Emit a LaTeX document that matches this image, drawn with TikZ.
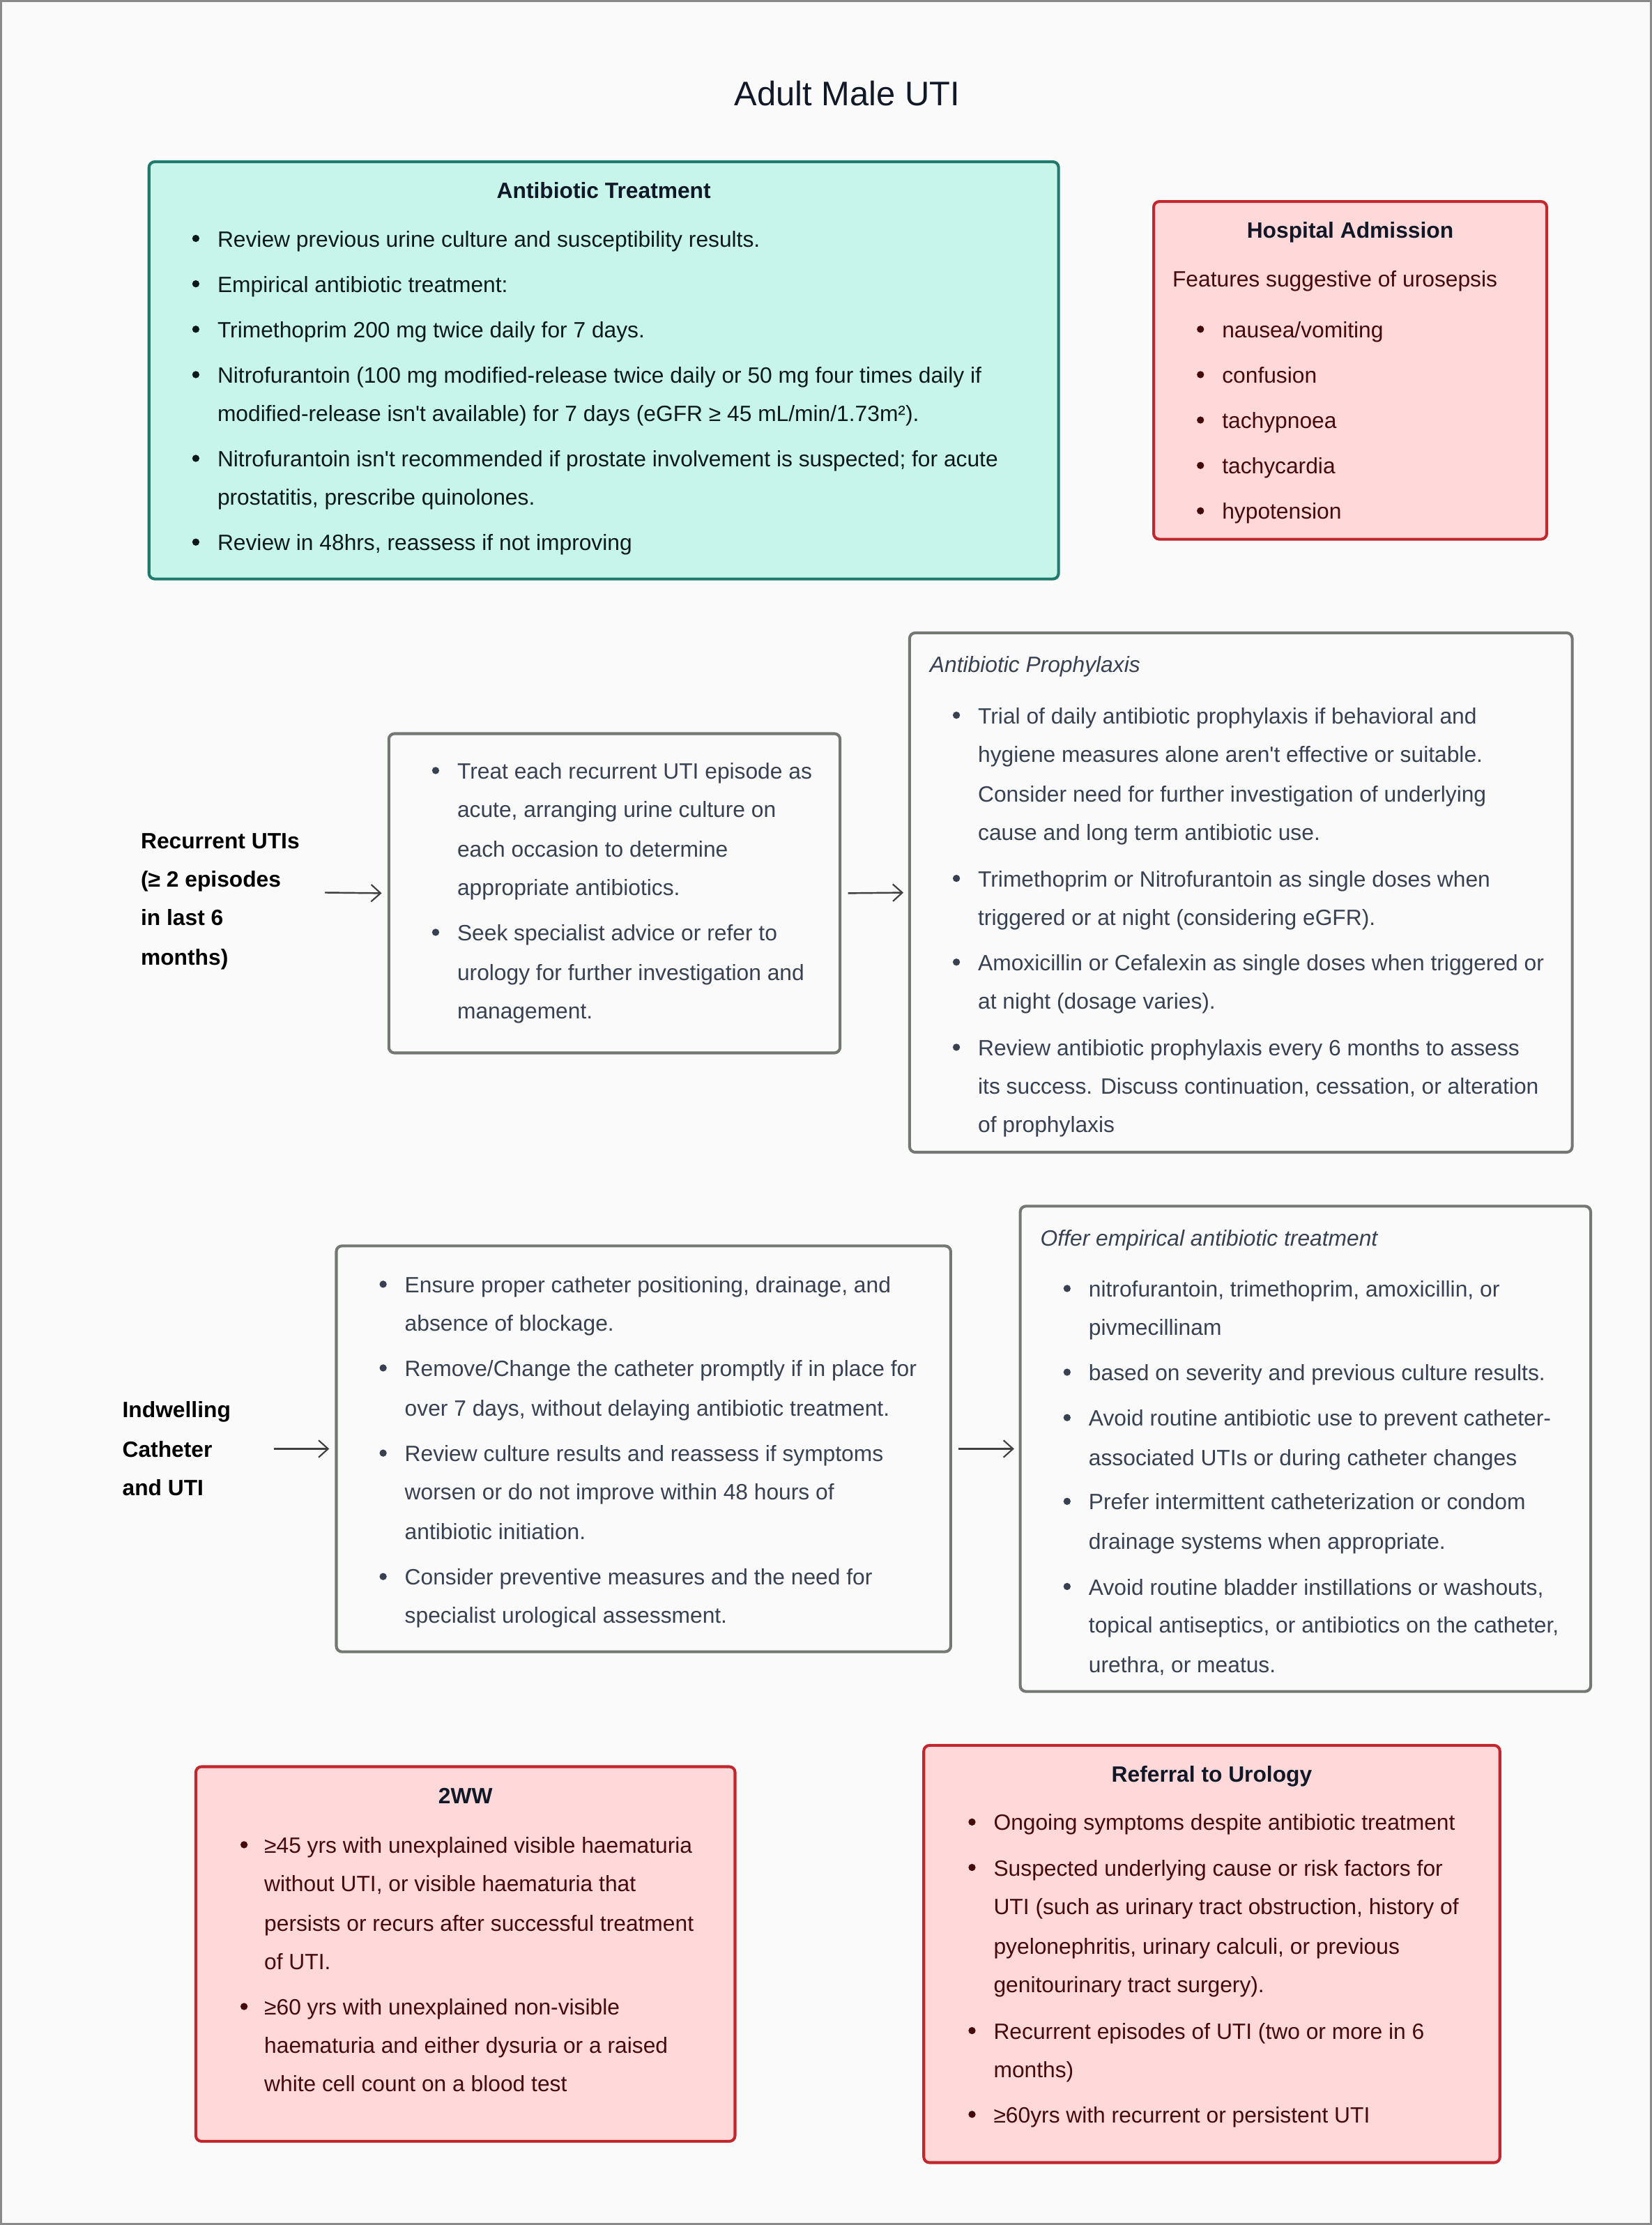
\documentclass[tikz,border=0pt]{standalone}
\usepackage{fontspec}
\setmainfont{Liberation Sans}
\usetikzlibrary{arrows.meta,fit}
\definecolor{bg}{HTML}{FAFAFA}
\definecolor{framec}{HTML}{8A8A8A}
\definecolor{mintfill}{HTML}{C8F5EA}
\definecolor{mintline}{HTML}{1E7A6A}
\definecolor{redfill}{HTML}{FFD9D9}
\definecolor{redline}{HTML}{C1272D}
\definecolor{grayline}{HTML}{737873}
\definecolor{titlec}{HTML}{111827}
\definecolor{graytext}{HTML}{374151}
\definecolor{redtext}{HTML}{450A0A}
\definecolor{minttext}{HTML}{0B1A17}
\newcommand{\sq}{\textquotesingle}
\begin{document}
\begin{tikzpicture}[x=0.75pt,y=-0.75pt,
  boxbase/.style={inner sep=0pt, rounded corners=3pt, line width=1.5pt},
  mintbox/.style={boxbase, draw=mintline, fill=mintfill},
  redbox/.style={boxbase, draw=redline, fill=redfill},
  graybox/.style={boxbase, draw=grayline, fill=bg},
  txt/.style={anchor=mid west, inner sep=0pt, yshift=-1.8pt, font=\fontsize{11.7}{14}\selectfont},
  hd/.style={anchor=mid, inner sep=0pt, yshift=-1.8pt, font=\fontsize{11.7}{14}\selectfont\bfseries, text=titlec},
  ithd/.style={txt, font=\fontsize{11.7}{14}\selectfont\itshape, text=graytext},
  lab/.style={txt, font=\fontsize{11.7}{14}\selectfont\bfseries, text=black},
  gt/.style={txt, text=graytext},
  rt/.style={txt, text=redtext},
  mt/.style={txt, text=minttext},
  bul/.style={circle, inner sep=0pt, minimum size=3.8pt},
  gb/.style={bul, fill=graytext},
  rb/.style={bul, fill=redtext},
  mb/.style={bul, fill=minttext},
  arr/.style={line width=0.9pt, draw=black!75, -{Straight Barb[length=5pt,width=9pt,line width=0.8pt]}}
]
\useasboundingbox (0,0) rectangle (1164,1568);
\fill[bg] (0,0) rectangle (1164,1568);
\draw[framec, line width=1pt] (0.7,0.7) rectangle (1163.3,1567.3);

% Title
\node[anchor=mid, inner sep=0pt, yshift=-3.5pt, font=\fontsize{18}{22}\selectfont, text=titlec] (title) at (597,66) {Adult Male UTI};

% ---------------- Antibiotic Treatment
\node[mintbox, fit={(105,114) (746,408)}] (abx) {};
\node[hd] (abxh) at (425.5,134) {Antibiotic Treatment};
\node[mb] (abxb1) at (138,168) {};
\node[mt] (abx1) at (153,168) {Review previous urine culture and susceptibility results.};
\node[mb] (abxb2) at (138,200) {};
\node[mt] (abx2) at (153,200) {Empirical antibiotic treatment:};
\node[mb] (abxb3) at (138,232) {};
\node[mt] (abx3) at (153,232) {Trimethoprim 200 mg twice daily for 7 days.};
\node[mb] (abxb4) at (138,264) {};
\node[mt] (abx4) at (153,264) {Nitrofurantoin (100 mg modified-release twice daily or 50 mg four times daily if};
\node[mt] (abx4b) at (153,291) {modified-release isn\sq t available) for 7 days (eGFR ≥ 45 mL/min/1.73m²).};
\node[mb] (abxb5) at (138,323) {};
\node[mt] (abx5) at (153,323) {Nitrofurantoin isn\sq t recommended if prostate involvement is suspected; for acute};
\node[mt] (abx5b) at (153,350) {prostatitis, prescribe quinolones.};
\node[mb] (abxb6) at (138,382) {};
\node[mt] (abx6) at (153,382) {Review in 48hrs, reassess if not improving};

% ---------------- Hospital Admission
\node[redbox, fit={(813,142) (1090,380)}] (hosp) {};
\node[hd] (hosph) at (951.5,162) {Hospital Admission};
\node[rt] (hosps) at (826,196) {Features suggestive of urosepsis};
\node[rb] (hospb1) at (846,232) {};
\node[rt] (hosp1) at (861,232) {nausea/vomiting};
\node[rb] (hospb2) at (846,264) {};
\node[rt] (hosp2) at (861,264) {confusion};
\node[rb] (hospb3) at (846,296) {};
\node[rt] (hosp3) at (861,296) {tachypnoea};
\node[rb] (hospb4) at (846,328) {};
\node[rt] (hosp4) at (861,328) {tachycardia};
\node[rb] (hospb5) at (846,360) {};
\node[rt] (hosp5) at (861,360) {hypotension};

% ---------------- Recurrent UTIs
\node[lab] (rec1) at (99,592) {Recurrent UTIs};
\node[lab] (rec2) at (99,619) {(≥ 2 episodes};
\node[lab] (rec3) at (99,646) {in last 6};
\node[lab] (rec4) at (99,674) {months)};
\coordinate (recout) at (229,629);

\node[graybox, fit={(274,517) (592,742)}] (rtr) {};
\node[gb] (rtrb1) at (307,543) {};
\node[gt] (rtr1) at (322,543) {Treat each recurrent UTI episode as};
\node[gt] (rtr1b) at (322,570) {acute, arranging urine culture on};
\node[gt] (rtr1c) at (322,598) {each occasion to determine};
\node[gt] (rtr1d) at (322,625) {appropriate antibiotics.};
\node[gb] (rtrb2) at (307,657) {};
\node[gt] (rtr2) at (322,657) {Seek specialist advice or refer to};
\node[gt] (rtr2b) at (322,685) {urology for further investigation and};
\node[gt] (rtr2c) at (322,712) {management.};

\node[graybox, fit={(641,446) (1108,812)}] (pro) {};
\node[ithd] (proh) at (655,468) {Antibiotic Prophylaxis};
\node[gb] (prob1) at (674,504) {};
\node[gt] (pro1) at (689,504) {Trial of daily antibiotic prophylaxis if behavioral and};
\node[gt] (pro1b) at (689,531) {hygiene measures alone aren\sq t effective or suitable.};
\node[gt] (pro1c) at (689,559) {Consider need for further investigation of underlying};
\node[gt] (pro1d) at (689,586) {cause and long term antibiotic use.};
\node[gb] (prob2) at (674,619) {};
\node[gt] (pro2) at (689,619) {Trimethoprim or Nitrofurantoin as single doses when};
\node[gt] (pro2b) at (689,646) {triggered or at night (considering eGFR).};
\node[gb] (prob3) at (674,678) {};
\node[gt] (pro3) at (689,678) {Amoxicillin or Cefalexin as single doses when triggered or};
\node[gt] (pro3b) at (689,705) {at night (dosage varies).};
\node[gb] (prob4) at (674,738) {};
\node[gt] (pro4) at (689,738) {Review antibiotic prophylaxis every 6 months to assess};
\node[gt] (pro4b) at (689,765) {its success. Discuss continuation, cessation, or alteration};
\node[gt] (pro4c) at (689,792) {of prophylaxis};

\draw[arr, shorten >=3pt] (recout) -- (rtr.west);
\draw[arr, shorten <=3.5pt, shorten >=2.5pt] (rtr.east) -- (pro.west);

% ---------------- Indwelling Catheter
\node[lab] (ind1) at (86,993) {Indwelling};
\node[lab] (ind2) at (86,1021) {Catheter};
\node[lab] (ind3) at (86,1048) {and UTI};
\coordinate (indout) at (193,1021);

\node[graybox, fit={(237,878) (670,1164)}] (cat) {};
\node[gb] (catb1) at (270,905) {};
\node[gt] (cat1) at (285,905) {Ensure proper catheter positioning, drainage, and};
\node[gt] (cat1b) at (285,932) {absence of blockage.};
\node[gb] (catb2) at (270,964) {};
\node[gt] (cat2) at (285,964) {Remove/Change the catheter promptly if in place for};
\node[gt] (cat2b) at (285,992) {over 7 days, without delaying antibiotic treatment.};
\node[gb] (catb3) at (270,1024) {};
\node[gt] (cat3) at (285,1024) {Review culture results and reassess if symptoms};
\node[gt] (cat3b) at (285,1051) {worsen or do not improve within 48 hours of};
\node[gt] (cat3c) at (285,1079) {antibiotic initiation.};
\node[gb] (catb4) at (270,1111) {};
\node[gt] (cat4) at (285,1111) {Consider preventive measures and the need for};
\node[gt] (cat4b) at (285,1138) {specialist urological assessment.};

\node[graybox, fit={(719,850) (1121,1192)}] (emp) {};
\node[ithd] (emph) at (733,872) {Offer empirical antibiotic treatment};
\node[gb] (empb1) at (752,908) {};
\node[gt] (emp1) at (767,908) {nitrofurantoin, trimethoprim, amoxicillin, or};
\node[gt] (emp1b) at (767,935) {pivmecillinam};
\node[gb] (empb2) at (752,967) {};
\node[gt] (emp2) at (767,967) {based on severity and previous culture results.};
\node[gb] (empb3) at (752,999) {};
\node[gt] (emp3) at (767,999) {Avoid routine antibiotic use to prevent catheter-};
\node[gt] (emp3b) at (767,1027) {associated UTIs or during catheter changes};
\node[gb] (empb4) at (752,1058) {};
\node[gt] (emp4) at (767,1058) {Prefer intermittent catheterization or condom};
\node[gt] (emp4b) at (767,1086) {drainage systems when appropriate.};
\node[gb] (empb5) at (752,1118) {};
\node[gt] (emp5) at (767,1118) {Avoid routine bladder instillations or washouts,};
\node[gt] (emp5b) at (767,1145) {topical antiseptics, or antibiotics on the catheter,};
\node[gt] (emp5c) at (767,1173) {urethra, or meatus.};

\draw[arr, shorten >=3pt] (indout) -- (cat.west);
\draw[arr, shorten <=3.5pt, shorten >=2.5pt] (cat.east) -- (emp.west);

% ---------------- 2WW
\node[redbox, fit={(138,1245) (518,1509)}] (tww) {};
\node[hd] (twwh) at (328,1265) {2WW};
\node[rb] (twwb1) at (172,1300) {};
\node[rt] (tww1) at (186,1300) {≥45 yrs with unexplained visible haematuria};
\node[rt] (tww1b) at (186,1327) {without UTI, or visible haematuria that};
\node[rt] (tww1c) at (186,1355) {persists or recurs after successful treatment};
\node[rt] (tww1d) at (186,1382) {of UTI.};
\node[rb] (twwb2) at (172,1414) {};
\node[rt] (tww2) at (186,1414) {≥60 yrs with unexplained non-visible};
\node[rt] (tww2b) at (186,1441) {haematuria and either dysuria or a raised};
\node[rt] (tww2c) at (186,1468) {white cell count on a blood test};

% ---------------- Referral to Urology
\node[redbox, fit={(651,1230) (1057,1524)}] (ref) {};
\node[hd] (refh) at (854,1250) {Referral to Urology};
\node[rb] (refb1) at (685,1284) {};
\node[rt] (ref1) at (700,1284) {Ongoing symptoms despite antibiotic treatment};
\node[rb] (refb2) at (685,1316) {};
\node[rt] (ref2) at (700,1316) {Suspected underlying cause or risk factors for};
\node[rt] (ref2b) at (700,1343) {UTI (such as urinary tract obstruction, history of};
\node[rt] (ref2c) at (700,1371) {pyelonephritis, urinary calculi, or previous};
\node[rt] (ref2d) at (700,1398) {genitourinary tract surgery).};
\node[rb] (refb3) at (685,1431) {};
\node[rt] (ref3) at (700,1431) {Recurrent episodes of UTI (two or more in 6};
\node[rt] (ref3b) at (700,1458) {months)};
\node[rb] (refb4) at (685,1490) {};
\node[rt] (ref4) at (700,1490) {≥60yrs with recurrent or persistent UTI};
\end{tikzpicture}
\end{document}
